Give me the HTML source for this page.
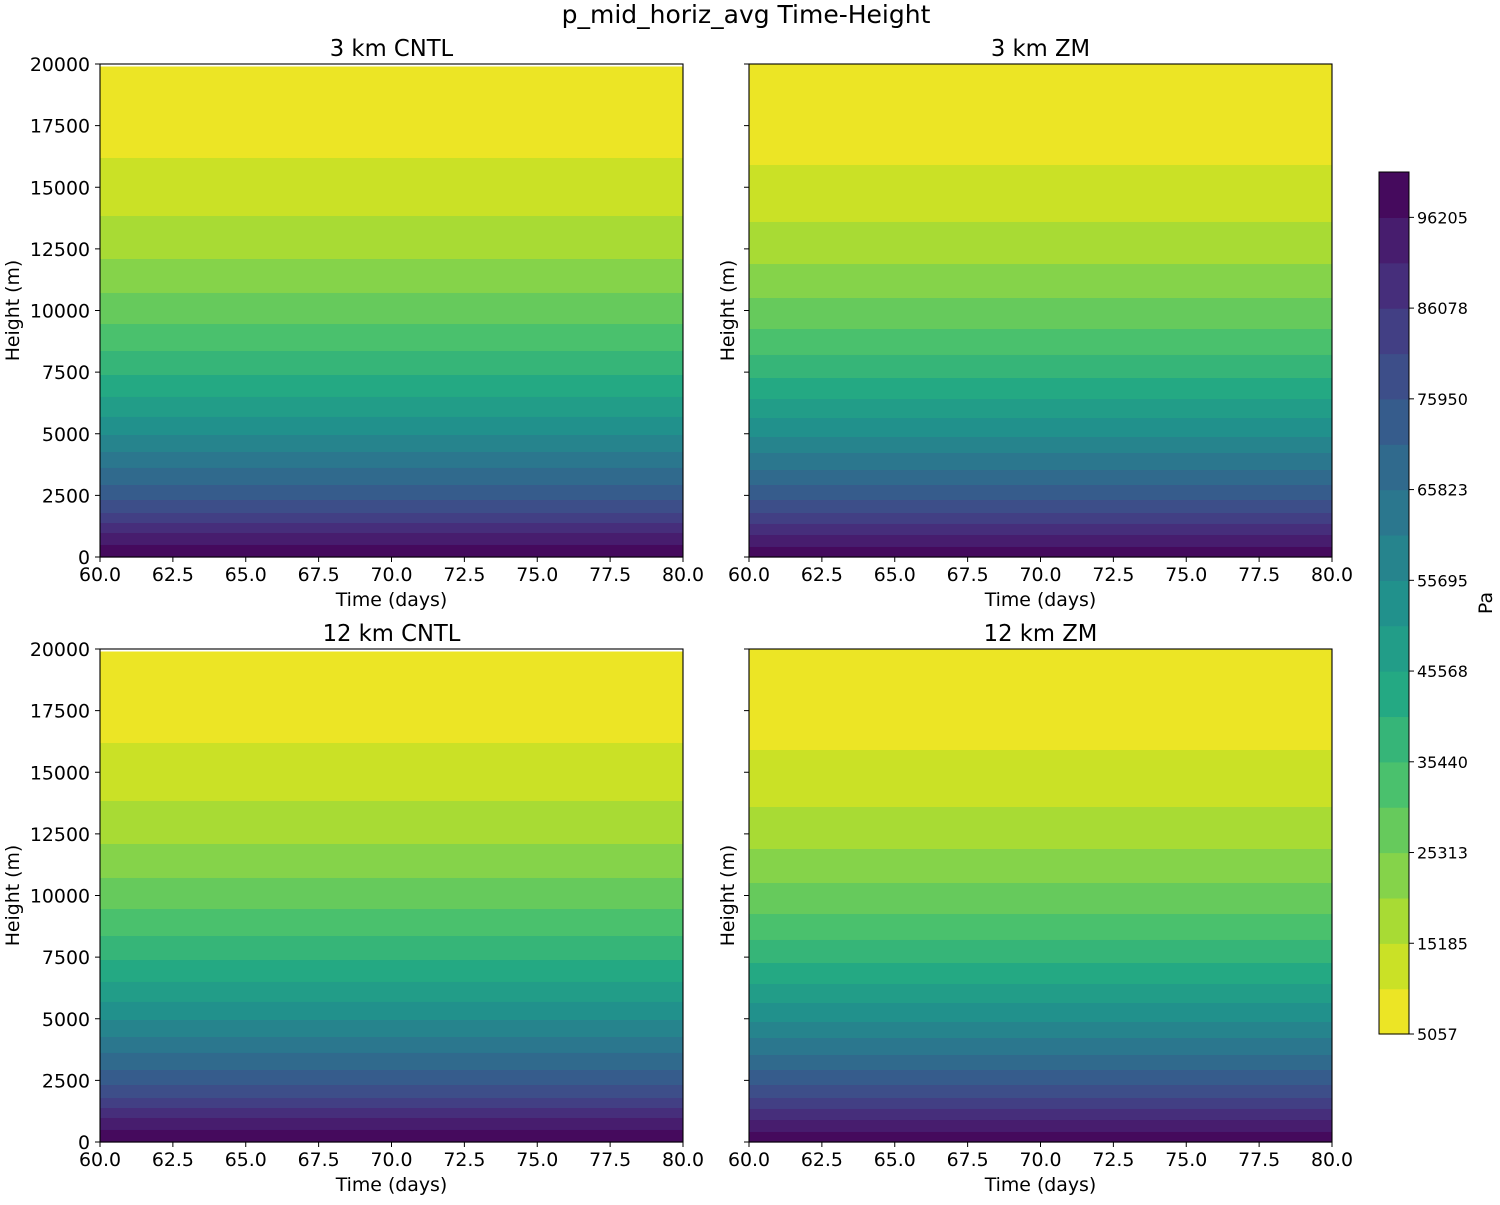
<!DOCTYPE html>
<html><head><meta charset="utf-8"><style>
body{margin:0;background:#fff;}
svg text{font-family:"DejaVu Sans","Liberation Sans",sans-serif;fill:#000;}
</style></head><body>
<svg id="fig" width="1500" height="1200" viewBox="0 0 1500 1200" xmlns="http://www.w3.org/2000/svg">
<rect width="1500" height="1200" fill="#fff"/>
<text x="746" y="23" font-size="25" text-anchor="middle">p_mid_horiz_avg Time-Height</text>
</svg>
<script>
// data
const levels=[5057,10121,15185,20249,25313,30377,35440,40504,45568,50632,55695,60759,65823,70887,75950,81014,86078,91142,96205,101269];
const cbTicks=[5057,15185,25313,35440,45568,55695,65823,75950,86078,96205];
const xTicks=[60,62.5,65,67.5,70,72.5,75,77.5,80];
const yTicks=[0,2500,5000,7500,10000,12500,15000,17500,20000];
const cntlBoundaries=[16187,13834,12089,10710,9452,8357,7383,6491,5680,4949,4260,3611,2921,2312,1785,1379,974,487];
const zmBoundaries=[15903,13590,11886,10507,9249,8195,7262,6410,5639,4868,4219,3529,2921,2312,1785,1339,892,406];
const panelTitles=["3 km CNTL","3 km ZM","12 km CNTL","12 km ZM"];

const NS="http://www.w3.org/2000/svg";
const svg=document.getElementById('fig');
function el(tag,attrs,parent){const e=document.createElementNS(NS,tag);for(const k in attrs)e.setAttribute(k,attrs[k]);(parent||svg).appendChild(e);return e;}
const vir=["#440154","#482475","#414487","#355f8d","#2a788e","#21918c","#22a884","#44bf70","#7ad151","#bddf26","#fde725"];
function hx(c){return [1,3,5].map(i=>parseInt(c.substr(i,2),16));}
function viridis(t){t=Math.max(0,Math.min(1,t));const f=t*10,i=Math.min(9,Math.floor(f)),r=f-i;const a=hx(vir[i]),b=hx(vir[i+1]);return 'rgb('+a.map((v,k)=>Math.round(v+(b[k]-v)*r)).join(',')+')';}
const nb=levels.length-1;
function binColor(i){return viridis(1-(i+0.5)/nb);}

const panels=[{x:100,y:64,b:cntlBoundaries,lab:true},{x:749,y:64,b:zmBoundaries,lab:false},{x:100,y:649,b:cntlBoundaries,lab:true},{x:749,y:649,b:zmBoundaries,lab:false}];
const W=583,H=493;
panels.forEach((p,pi)=>{
  const g=el('g',{});
  
  
  const xs=v=>p.x+(v-60)/20*W, ys=v=>p.y+H-v/20000*H;
  const edges=[20000].concat(p.b).concat([0]);
  for(let i=0;i<edges.length-1;i++){
    const r=el('rect',{x:p.x,y:ys(edges[i]),width:W,height:ys(edges[i+1])-ys(edges[i])+0.6,fill:binColor(i)},g);
    
    
  }
  if(pi%2===0){el('rect',{x:p.x,y:p.y,width:W,height:2.5,fill:'#fff'},g);}
  el('rect',{x:p.x,y:p.y,width:W,height:H,fill:'none',stroke:'#000','stroke-width':1.1},g);
  xTicks.forEach(v=>{const X=xs(v);el('line',{x1:X,x2:X,y1:p.y+H,y2:p.y+H+5,stroke:'#000'},g);
    const t=el('text',{x:X,y:p.y+H+24,'font-size':18.9,'text-anchor':'middle'},g);t.textContent=v.toFixed(1);
    });
  yTicks.forEach(v=>{const Y=ys(v);el('line',{x1:p.x-5,x2:p.x,y1:Y,y2:Y,stroke:'#000'},g);
    if(p.lab){const t=el('text',{x:p.x-10,y:Y+7,'font-size':18.9,'text-anchor':'end'},g);t.textContent=v;
    }});
  const tt=el('text',{x:p.x+W/2,y:p.y-8,'font-size':22.7,'text-anchor':'middle'},g);tt.textContent=panelTitles[pi];
  
  const xl=el('text',{x:p.x+W/2,y:p.y+H+49,'font-size':18.9,'text-anchor':'middle'},g);xl.textContent='Time (days)';
  
  const yx=p.lab?19:p.x-15;
  const yl=el('text',{x:yx,y:p.y+H/2,'font-size':18.9,'text-anchor':'middle',transform:'rotate(-90 '+yx+' '+(p.y+H/2)+')'},g);yl.textContent='Height (m)';
  
});
// colorbar
const cb=el('g',{});


const cx=1379,cw=30,ctop=172,cbot=1034;
const cy=v=>cbot-(v-levels[0])/(levels[nb]-levels[0])*(cbot-ctop);
for(let i=0;i<nb;i++){const r=el('rect',{x:cx,y:cy(levels[i+1]),width:cw,height:cy(levels[i])-cy(levels[i+1])+0.6,fill:binColor(i)},cb);
  }
el('rect',{x:cx,y:ctop,width:cw,height:cbot-ctop,fill:'none',stroke:'#000','stroke-width':1},cb);
cbTicks.forEach(v=>{const Y=cy(v);el('line',{x1:cx+cw,x2:cx+cw+5,y1:Y,y2:Y,stroke:'#000'},cb);
  const t=el('text',{x:cx+cw+8,y:Y+6,'font-size':16,'font-size-adjust':'none'},cb);t.textContent=v;
  });
const pl=el('text',{x:1492,y:603,'font-size':18.9,'text-anchor':'middle',transform:'rotate(-90 1492 603)'},cb);pl.textContent='Pa';

</script>
</body></html>
